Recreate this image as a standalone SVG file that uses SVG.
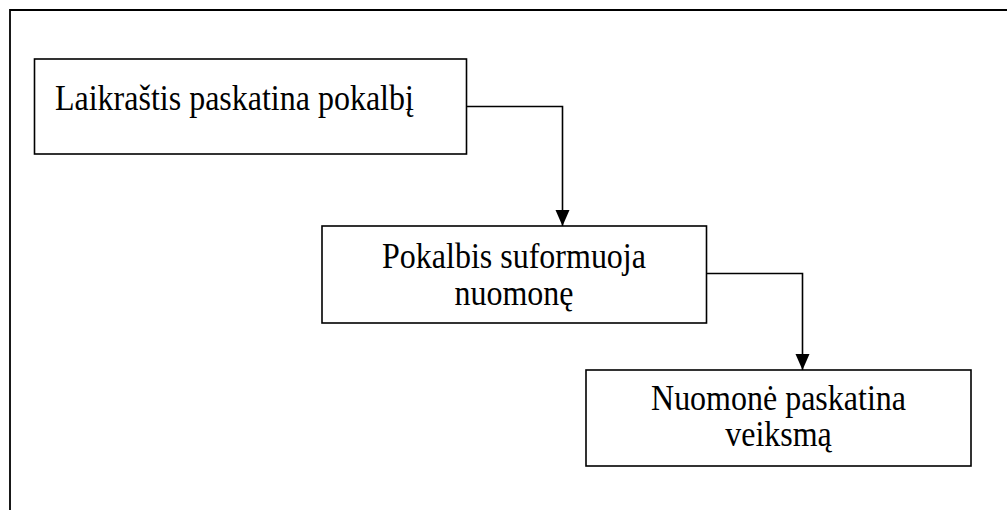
<svg xmlns="http://www.w3.org/2000/svg" width="1007" height="510" viewBox="0 0 1007 510">
<style>
.box{fill:#fff;stroke:#000;stroke-width:1.6}
.frame{fill:none;stroke:#000;stroke-width:1.8}
.conn{fill:none;stroke:#000;stroke-width:1.6}
.t{font-family:"Liberation Serif","Times New Roman",serif;font-size:32px;fill:#000}
</style>
<defs>
<marker id="arr" markerUnits="userSpaceOnUse" markerWidth="16" markerHeight="18" refX="16" refY="7" orient="auto">
<path d="M0,0 L16,7 L0,14 Z" fill="#000"/>
</marker>
</defs>
<rect width="1007" height="510" fill="#fff"/>
<path class="frame" d="M10,512 L10,10 L1010,10"/>
<g id="connectors">
<path class="conn" d="M466,106.5 L562.5,106.5 L562.5,226" marker-end="url(#arr)"/>
<path class="conn" d="M706.5,273.5 L802.5,273.5 L802.5,370" marker-end="url(#arr)"/>
</g>
<g id="node1">
<rect class="box" x="34.5" y="59" width="432" height="95"/>
<text class="t" transform="translate(55,110) scale(1,1.1)">Laikraštis paskatina pokalbį</text>
</g>
<g id="node2">
<rect class="box" x="322" y="226" width="384.5" height="97"/>
<text class="t" transform="translate(514,268) scale(1,1.1)" text-anchor="middle">Pokalbis suformuoja</text>
<text class="t" transform="translate(514,305) scale(1,1.1)" text-anchor="middle">nuomonę</text>
</g>
<g id="node3">
<rect class="box" x="586" y="370" width="385" height="96"/>
<text class="t" transform="translate(778.5,410) scale(1,1.1)" text-anchor="middle">Nuomonė paskatina</text>
<text class="t" transform="translate(778.5,446) scale(1,1.1)" text-anchor="middle">veiksmą</text>
</g>
</svg>
